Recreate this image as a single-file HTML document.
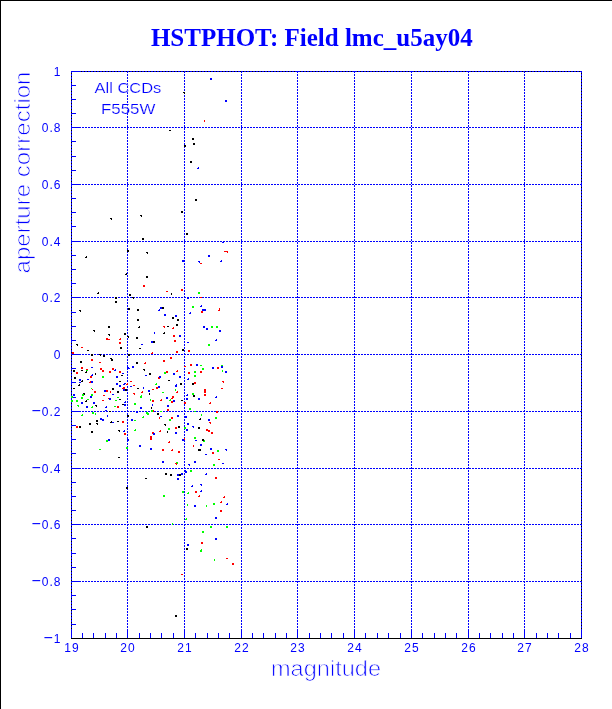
<!DOCTYPE html>
<html lang="en"><head><meta charset="utf-8"><title>HSTPHOT: Field lmc_u5ay04</title>
<style>html,body{margin:0;padding:0;background:#fff;overflow:hidden}svg{display:block}text{font-family:"Liberation Sans",sans-serif;fill:#0000ff}.l{stroke:#fff;stroke-width:0.75px}.c{stroke:#fff;stroke-width:0.2px}.t{font-family:"Liberation Serif",serif;font-weight:bold;font-size:25px}.n{font-size:12px;letter-spacing:1px}.l{font-size:22px}.c{font-size:15.5px}</style></head><body>
<svg width="612" height="709" viewBox="0 0 612 709">
<rect width="612" height="709" fill="#fff"/>
<g shape-rendering="crispEdges">
<rect x="0" y="0" width="612" height="1" fill="#000"/><rect x="0" y="0" width="1" height="709" fill="#000"/>
<rect x="71.5" y="71.5" width="510" height="567" fill="none" stroke="#000" stroke-width="1"/>
<g stroke="#0000ff" stroke-width="1"><line x1="71.5" y1="71" x2="71.5" y2="638" stroke-dasharray="2 1" stroke-dashoffset="0"/><line x1="127.5" y1="71" x2="127.5" y2="638" stroke-dasharray="2 1" stroke-dashoffset="0"/><line x1="184.5" y1="71" x2="184.5" y2="638" stroke-dasharray="2 1" stroke-dashoffset="0"/><line x1="241.5" y1="71" x2="241.5" y2="638" stroke-dasharray="2 1" stroke-dashoffset="0"/><line x1="297.5" y1="71" x2="297.5" y2="638" stroke-dasharray="2 1" stroke-dashoffset="0"/><line x1="354.5" y1="71" x2="354.5" y2="638" stroke-dasharray="2 1" stroke-dashoffset="0"/><line x1="411.5" y1="71" x2="411.5" y2="638" stroke-dasharray="2 1" stroke-dashoffset="0"/><line x1="468.5" y1="71" x2="468.5" y2="638" stroke-dasharray="2 1" stroke-dashoffset="0"/><line x1="524.5" y1="71" x2="524.5" y2="638" stroke-dasharray="2 1" stroke-dashoffset="0"/><line x1="581.5" y1="71" x2="581.5" y2="638" stroke-dasharray="2 1" stroke-dashoffset="0"/><line x1="71" y1="71.5" x2="582" y2="71.5" stroke-dasharray="2 1" stroke-dashoffset="1"/><line x1="71" y1="127.5" x2="582" y2="127.5" stroke-dasharray="2 1" stroke-dashoffset="1"/><line x1="71" y1="184.5" x2="582" y2="184.5" stroke-dasharray="2 1" stroke-dashoffset="1"/><line x1="71" y1="241.5" x2="582" y2="241.5" stroke-dasharray="2 1" stroke-dashoffset="1"/><line x1="71" y1="297.5" x2="582" y2="297.5" stroke-dasharray="2 1" stroke-dashoffset="1"/><line x1="71" y1="354.5" x2="582" y2="354.5" stroke-dasharray="2 1" stroke-dashoffset="1"/><line x1="71" y1="411.5" x2="582" y2="411.5" stroke-dasharray="2 1" stroke-dashoffset="1"/><line x1="71" y1="468.5" x2="582" y2="468.5" stroke-dasharray="2 1" stroke-dashoffset="1"/><line x1="71" y1="524.5" x2="582" y2="524.5" stroke-dasharray="2 1" stroke-dashoffset="1"/><line x1="71" y1="581.5" x2="582" y2="581.5" stroke-dasharray="2 1" stroke-dashoffset="1"/></g>
<g fill="#0000ff"><rect x="71" y="629" width="1" height="9"/><rect x="82" y="633" width="1" height="5"/><rect x="93" y="633" width="1" height="5"/><rect x="105" y="633" width="1" height="5"/><rect x="116" y="633" width="1" height="5"/><rect x="127" y="629" width="1" height="9"/><rect x="139" y="633" width="1" height="5"/><rect x="150" y="633" width="1" height="5"/><rect x="161" y="633" width="1" height="5"/><rect x="173" y="633" width="1" height="5"/><rect x="184" y="629" width="1" height="9"/><rect x="195" y="633" width="1" height="5"/><rect x="207" y="633" width="1" height="5"/><rect x="218" y="633" width="1" height="5"/><rect x="229" y="633" width="1" height="5"/><rect x="241" y="629" width="1" height="9"/><rect x="252" y="633" width="1" height="5"/><rect x="263" y="633" width="1" height="5"/><rect x="275" y="633" width="1" height="5"/><rect x="286" y="633" width="1" height="5"/><rect x="297" y="629" width="1" height="9"/><rect x="309" y="633" width="1" height="5"/><rect x="320" y="633" width="1" height="5"/><rect x="331" y="633" width="1" height="5"/><rect x="343" y="633" width="1" height="5"/><rect x="354" y="629" width="1" height="9"/><rect x="365" y="633" width="1" height="5"/><rect x="377" y="633" width="1" height="5"/><rect x="388" y="633" width="1" height="5"/><rect x="400" y="633" width="1" height="5"/><rect x="411" y="629" width="1" height="9"/><rect x="422" y="633" width="1" height="5"/><rect x="434" y="633" width="1" height="5"/><rect x="445" y="633" width="1" height="5"/><rect x="456" y="633" width="1" height="5"/><rect x="468" y="629" width="1" height="9"/><rect x="479" y="633" width="1" height="5"/><rect x="490" y="633" width="1" height="5"/><rect x="502" y="633" width="1" height="5"/><rect x="513" y="633" width="1" height="5"/><rect x="524" y="629" width="1" height="9"/><rect x="536" y="633" width="1" height="5"/><rect x="547" y="633" width="1" height="5"/><rect x="558" y="633" width="1" height="5"/><rect x="570" y="633" width="1" height="5"/><rect x="581" y="629" width="1" height="9"/><rect x="71" y="71" width="10" height="1"/><rect x="71" y="85" width="5" height="1"/><rect x="71" y="99" width="5" height="1"/><rect x="71" y="113" width="5" height="1"/><rect x="71" y="127" width="10" height="1"/><rect x="71" y="141" width="5" height="1"/><rect x="71" y="156" width="5" height="1"/><rect x="71" y="170" width="5" height="1"/><rect x="71" y="184" width="10" height="1"/><rect x="71" y="198" width="5" height="1"/><rect x="71" y="212" width="5" height="1"/><rect x="71" y="226" width="5" height="1"/><rect x="71" y="241" width="10" height="1"/><rect x="71" y="255" width="5" height="1"/><rect x="71" y="269" width="5" height="1"/><rect x="71" y="283" width="5" height="1"/><rect x="71" y="297" width="10" height="1"/><rect x="71" y="312" width="5" height="1"/><rect x="71" y="326" width="5" height="1"/><rect x="71" y="340" width="5" height="1"/><rect x="71" y="354" width="10" height="1"/><rect x="71" y="368" width="5" height="1"/><rect x="71" y="382" width="5" height="1"/><rect x="71" y="397" width="5" height="1"/><rect x="71" y="411" width="10" height="1"/><rect x="71" y="425" width="5" height="1"/><rect x="71" y="439" width="5" height="1"/><rect x="71" y="453" width="5" height="1"/><rect x="71" y="468" width="10" height="1"/><rect x="71" y="482" width="5" height="1"/><rect x="71" y="496" width="5" height="1"/><rect x="71" y="510" width="5" height="1"/><rect x="71" y="524" width="10" height="1"/><rect x="71" y="538" width="5" height="1"/><rect x="71" y="553" width="5" height="1"/><rect x="71" y="567" width="5" height="1"/><rect x="71" y="581" width="10" height="1"/><rect x="71" y="595" width="5" height="1"/><rect x="71" y="609" width="5" height="1"/><rect x="71" y="624" width="5" height="1"/></g>
<path fill="#00ff00" d="M198 292h2v2h-2zM192 306h2v2h-2zM211 326h2v2h-2zM216 326h2v2h-2zM86 370h2v1h-2zM102 376h2v2h-2zM91 388h1v1h-1zM82 394h2v2h-2zM91 394h2v2h-2zM71 396h2v2h-2zM81 397h2v2h-2zM87 399h2v1h-2zM117 397h2v1h-2zM164 372h2v2h-2zM156 383h1v2h-2v-1h1zM175 389h1v2h-1zM162 392h2v1h-2zM140 396h2v2h-2zM141 395h1v1h-1zM150 399h1v2h-1zM170 399h1v2h-2v-1h1zM208 344h2v2h-2zM200 365h2v1h-2zM202 368h2v2h-2zM221 365h2v1h-2zM222 370h1v2h-1zM194 371h2v2h-2zM194 375h2v2h-2zM192 393h2v2h-2zM71 400h2v2h-2zM76 400h2v2h-2zM115 400h2v1h-2zM77 405h2v2h-1v-1h-1zM92 406h1v2h-2v-1h1zM114 406h2v1h-2zM92 412h2v2h-2zM95 413h1v2h-1zM82 414h1v2h-2v-1h1zM106 440h2v2h-2zM99 449h2v1h-2zM126 447h2v2h-2zM134 403h2v2h-2zM189 408h2v2h-2zM151 410h2v2h-2zM160 411h2v1h-2zM146 412h2v2h-2zM147 413h2v2h-2zM143 416h1v2h-2v-1h1zM169 419h2v2h-2zM134 420h2v1h-2zM184 427h2v2h-2zM168 428h2v2h-2zM135 429h1v2h-2v-1h1zM194 411h2v1h-2zM201 414h1v2h-1zM215 417h2v2h-2zM194 437h2v2h-2zM203 440h2v2h-2zM217 450h2v2h-2zM176 462h2v2h-2zM182 491h2v2h-2zM188 492h1v2h-2v-1h1zM163 495h2v2h-2zM187 504h1v2h-1zM213 464h2v2h-2zM190 470h2v2h-2zM213 503h2v2h-2zM206 505h1v2h-1zM186 518h1v2h-2v-1h1zM172 523h1v2h-1zM210 526h2v2h-2zM226 526h2v2h-2zM202 531h2v2h-2zM200 550h2v2h-2zM201 549h1v1h-1zM214 559h1v2h-1z"/>
<path fill="#ff0000" d="M204 120h1v2h-1zM224 251h2v1h-2zM226 251h2v2h-1v-1h-1zM200 263h2v1h-2zM143 285h2v2h-2zM106 338h2v2h-2zM108 339h2v1h-2zM120 338h1v2h-2v-1h1zM166 291h2v1h-2zM181 289h2v2h-2zM200 297h2v1h-2zM201 311h2v2h-2zM219 309h1v2h-2v-1h1zM219 308h1v1h-1zM163 326h2v2h-1v-1h-1zM173 327h1v2h-2v-1h1zM173 335h2v2h-2zM174 340h2v2h-2zM81 347h2v1h-2zM72 352h2v2h-2zM119 342h2v2h-2zM91 359h2v2h-2zM99 362h2v1h-2zM81 367h2v2h-2zM76 372h2v2h-2zM86 369h2v1h-2zM100 368h2v2h-2zM102 370h2v2h-2zM112 368h2v2h-2zM109 371h2v2h-2zM119 371h2v2h-2zM90 376h2v2h-2zM90 381h1v2h-2v-1h1zM127 383h1v2h-2v-1h1zM123 387h2v2h-2zM122 388h1v1h-1zM92 389h1v1h-1zM94 391h2v2h-2zM106 390h2v2h-2zM110 391h1v2h-1zM103 395h2v1h-2zM108 398h1v1h-1zM176 351h2v2h-2zM188 350h2v2h-2zM152 352h1v2h-2v-1h1zM170 357h2v2h-2zM163 360h2v2h-2zM145 362h1v2h-2v-1h1zM184 366h2v1h-2zM177 370h1v2h-2v-1h1zM166 371h2v2h-2zM188 372h2v2h-2zM158 377h2v2h-2zM130 381h2v1h-2zM133 385h2v1h-2zM156 387h2v2h-2zM152 389h2v1h-2zM142 391h1v2h-2v-1h1zM177 391h1v2h-2v-1h1zM133 393h2v2h-1v-1h-1zM172 396h2v2h-2zM171 398h2v1h-2zM161 399h1v2h-2v-1h1zM190 364h2v2h-2zM217 367h2v2h-2zM200 371h2v2h-2zM194 382h2v2h-2zM222 381h2v2h-1v-1h-1zM221 388h2v1h-2zM204 389h2v2h-2zM204 391h2v2h-2zM204 394h2v2h-2zM102 400h2v1h-2zM117 406h2v2h-2zM122 421h2v2h-2zM76 426h2v2h-2zM124 433h2v2h-2zM152 400h2v2h-2zM171 401h2v2h-2zM184 402h2v2h-2zM167 409h2v2h-2zM153 410h1v2h-1zM159 417h1v2h-1zM171 417h2v2h-2zM175 427h2v2h-2zM160 430h1v2h-2v-1h1zM152 432h2v2h-2zM150 436h2v2h-2zM150 438h2v2h-2zM184 438h1v2h-1zM169 441h1v2h-2v-1h1zM162 449h2v2h-2zM172 449h1v2h-2v-1h1zM178 451h2v2h-2zM210 402h1v2h-2v-1h1zM216 411h2v2h-2zM209 422h2v2h-1v-1h-1zM206 429h2v2h-2zM208 430h2v2h-2zM211 432h2v2h-2zM193 445h1v2h-1zM212 452h2v2h-2zM175 463h2v2h-1v-1h-1zM218 459h2v1h-2zM215 477h2v2h-2zM195 491h2v2h-2zM199 495h1v2h-2v-1h1zM224 496h1v2h-2v-1h1zM221 501h1v2h-2v-1h1zM220 510h2v2h-2zM201 542h2v2h-2zM226 558h2v1h-2zM232 563h2v2h-2zM181 574h2v1h-2z"/>
<path fill="#0000ff" d="M210 78h2v2h-2zM225 100h2v2h-2zM198 167h1v2h-2v-1h1zM222 242h2v1h-2zM208 255h2v2h-2zM182 260h2v2h-2zM198 261h2v2h-1v-1h-1zM221 260h1v2h-2v-1h1zM187 297h2v2h-2zM160 307h2v2h-2zM159 309h1v2h-2v-1h1zM201 305h1v2h-2v-1h1zM202 309h2v2h-2zM204 309h2v2h-2zM190 312h1v2h-2v-1h1zM164 314h2v2h-2zM175 315h2v2h-2zM203 326h2v2h-2zM206 328h2v2h-2zM219 330h2v2h-2zM154 332h1v2h-1zM179 335h2v2h-2zM151 341h2v2h-2zM216 339h1v2h-2v-1h1zM91 367h2v1h-2zM115 369h1v2h-2v-1h1zM122 373h2v1h-2zM92 374h1v2h-2v-1h1zM116 376h2v2h-2zM79 379h2v2h-2zM87 379h2v1h-2zM79 382h2v1h-2zM91 381h2v2h-2zM116 383h2v2h-2zM119 385h2v2h-2zM124 383h2v1h-2zM123 384h2v1h-2zM123 389h2v2h-2zM104 390h2v2h-2zM112 394h2v1h-2zM73 394h2v2h-2zM90 396h2v2h-2zM109 398h2v2h-2zM127 367h2v2h-2zM128 368h2v1h-2zM141 344h2v1h-2zM187 342h2v1h-2zM132 366h2v2h-2zM173 373h2v2h-2zM145 375h2v1h-2zM159 376h2v2h-2zM179 376h2v2h-2zM188 378h1v2h-2v-1h1zM175 385h2v2h-2zM176 384h1v1h-1zM130 386h2v1h-2zM143 387h1v2h-1zM158 386h2v2h-2zM148 390h2v2h-2zM187 394h1v2h-2v-1h1zM166 397h2v2h-2zM186 398h2v2h-2zM196 364h2v2h-2zM212 367h2v2h-2zM221 366h2v2h-2zM225 371h2v2h-2zM216 396h1v2h-2v-1h1zM198 398h2v2h-2zM81 402h2v2h-2zM93 402h2v2h-2zM125 401h1v2h-2v-1h1zM124 404h2v2h-2zM86 406h2v2h-2zM106 406h1v2h-2v-1h1zM105 410h2v1h-2zM107 415h1v2h-1zM100 418h2v2h-2zM102 419h2v2h-2zM112 422h2v1h-2zM124 430h1v2h-2v-1h1zM108 439h2v2h-2zM127 439h2v2h-2zM173 400h2v2h-2zM152 404h1v2h-1zM167 405h2v2h-2zM140 407h2v2h-2zM136 411h2v2h-2zM160 416h2v1h-2zM177 415h2v2h-2zM185 416h2v2h-2zM131 419h2v2h-2zM187 423h2v2h-2zM186 429h2v2h-2zM153 433h2v2h-2zM175 432h2v2h-2zM182 439h2v2h-2zM139 445h2v2h-2zM150 448h2v2h-2zM208 419h2v2h-2zM192 426h2v2h-1v-1h-1zM195 440h2v1h-2zM200 444h2v2h-2zM210 448h2v2h-2zM225 449h2v2h-1v-1h-1zM205 454h2v1h-2zM162 461h2v2h-2zM188 464h2v2h-1v-1h-1zM185 471h2v2h-2zM184 470h2v1h-2zM177 474h2v2h-2zM181 473h2v2h-2zM177 478h2v2h-2zM194 461h2v2h-2zM222 463h2v1h-2zM206 473h1v2h-2v-1h1zM192 485h1v2h-2v-1h1zM200 484h2v2h-1v-1h-1zM201 490h1v2h-2v-1h1zM227 503h1v2h-2v-1h1zM194 505h2v2h-2zM215 517h2v2h-2zM215 538h2v2h-2zM187 544h2v2h-2z"/>
<path fill="#000" d="M169 130h2v1h-2zM192 138h2v2h-2zM193 143h2v2h-2zM184 145h2v2h-2zM190 161h2v2h-2zM183 92h2v2h-1v-1h-1zM110 218h2v2h-1v-1h-1zM140 215h2v2h-1v-1h-1zM142 238h2v2h-2zM127 250h2v2h-2zM146 252h2v2h-1v-1h-1zM86 256h1v2h-2v-1h1zM195 199h2v2h-2zM181 211h2v2h-2zM186 233h2v2h-2zM126 273h1v2h-2v-1h1zM146 276h2v2h-2zM98 292h1v2h-2v-1h1zM129 294h2v2h-2zM132 297h2v2h-1v-1h-1zM115 297h2v2h-2zM115 301h2v2h-2zM79 310h2v2h-1v-1h-1zM128 308h2v2h-2zM137 309h2v2h-2zM137 319h2v2h-2zM108 326h2v2h-2zM139 326h1v2h-2v-1h1zM93 330h2v2h-1v-1h-1zM108 334h2v2h-1v-1h-1zM124 333h2v2h-2zM127 336h2v2h-1v-1h-1zM136 337h2v2h-2zM171 293h1v2h-1zM162 307h2v2h-2zM172 317h2v2h-2zM177 319h2v2h-2zM176 324h2v2h-2zM167 326h2v1h-2zM164 332h1v2h-2v-1h1zM153 341h2v2h-2zM76 344h2v2h-1v-1h-1zM87 350h2v1h-2zM120 347h2v2h-2zM91 354h2v2h-2zM99 354h2v2h-1v-1h-1zM103 355h2v2h-2zM128 354h2v2h-2zM111 359h2v2h-2zM110 358h2v1h-2zM80 361h2v2h-2zM73 370h2v2h-2zM81 370h2v1h-2zM86 371h1v2h-2v-1h1zM121 375h2v1h-2zM95 373h1v2h-1zM74 377h2v2h-2zM82 380h1v2h-2v-1h1zM119 381h2v1h-2zM79 384h1v2h-2v-1h1zM73 388h2v1h-2zM125 389h2v2h-2zM112 388h2v2h-2zM117 391h2v2h-2zM83 393h2v2h-1v-1h-1zM119 399h2v1h-2zM139 348h2v1h-2zM182 349h2v2h-2zM136 362h2v2h-2zM143 369h2v2h-1v-1h-1zM149 373h2v2h-2zM168 380h2v1h-2zM180 383h2v2h-2zM137 388h2v1h-2zM149 393h1v2h-1zM192 383h2v2h-2zM193 395h2v2h-2zM86 400h1v2h-2v-1h1zM122 404h2v1h-2zM95 405h2v2h-1v-1h-1zM109 411h2v1h-2zM127 415h2v2h-2zM96 420h2v2h-2zM89 423h2v2h-2zM96 423h2v2h-1v-1h-1zM111 421h1v2h-2v-1h1zM117 421h2v1h-2zM79 426h2v2h-2zM91 431h2v2h-2zM118 430h2v2h-1v-1h-1zM118 457h2v1h-2zM181 400h2v1h-2zM151 407h1v2h-1zM157 413h2v2h-2zM164 424h2v2h-1v-1h-1zM178 426h2v2h-2zM167 431h1v2h-1zM200 418h1v2h-2v-1h1zM198 427h2v2h-2zM202 439h2v2h-2zM198 449h2v2h-2zM199 449h2v2h-2zM126 487h2v2h-2zM165 473h2v2h-2zM170 474h2v2h-2zM179 474h2v2h-2zM145 478h2v1h-2zM186 548h2v2h-2zM146 526h2v2h-2zM175 615h2v2h-2z"/>
</g>
<text class="t" x="311.8" y="46" text-anchor="middle">HSTPHOT: Field lmc_u5ay04</text>
<text class="n" x="61.5" y="75.5" text-anchor="end">1</text>
<text class="n" x="61.5" y="131.5" text-anchor="end">0.8</text>
<text class="n" x="61.5" y="188.5" text-anchor="end">0.6</text>
<text class="n" x="61.5" y="245.5" text-anchor="end">0.4</text>
<text class="n" x="61.5" y="301.5" text-anchor="end">0.2</text>
<text class="n" x="61.5" y="358.5" text-anchor="end">0</text>
<text class="n" x="61.5" y="415.5" text-anchor="end"><tspan font-size="16">−</tspan>0.2</text>
<text class="n" x="61.5" y="472.5" text-anchor="end"><tspan font-size="16">−</tspan>0.4</text>
<text class="n" x="61.5" y="528.5" text-anchor="end"><tspan font-size="16">−</tspan>0.6</text>
<text class="n" x="61.5" y="585.5" text-anchor="end"><tspan font-size="16">−</tspan>0.8</text>
<text class="n" x="61.5" y="642.5" text-anchor="end"><tspan font-size="16">−</tspan>1</text>
<text class="n" x="72" y="652" text-anchor="middle">19</text>
<text class="n" x="128" y="652" text-anchor="middle">20</text>
<text class="n" x="185" y="652" text-anchor="middle">21</text>
<text class="n" x="242" y="652" text-anchor="middle">22</text>
<text class="n" x="298" y="652" text-anchor="middle">23</text>
<text class="n" x="355" y="652" text-anchor="middle">24</text>
<text class="n" x="412" y="652" text-anchor="middle">25</text>
<text class="n" x="469" y="652" text-anchor="middle">26</text>
<text class="n" x="525" y="652" text-anchor="middle">27</text>
<text class="n" x="582" y="652" text-anchor="middle">28</text>
<text class="l" x="271" y="675.5" textLength="110" lengthAdjust="spacingAndGlyphs">magnitude</text>
<text class="l" style="font-size:21.5px" transform="translate(29.6,273.5) rotate(-90)" textLength="202" lengthAdjust="spacingAndGlyphs">aperture correction</text>
<text class="c" x="94.5" y="93.2" textLength="66.8" lengthAdjust="spacingAndGlyphs">All CCDs</text>
<text class="c" x="101" y="113.6" textLength="54.3" lengthAdjust="spacingAndGlyphs">F555W</text>
</svg></body></html>
